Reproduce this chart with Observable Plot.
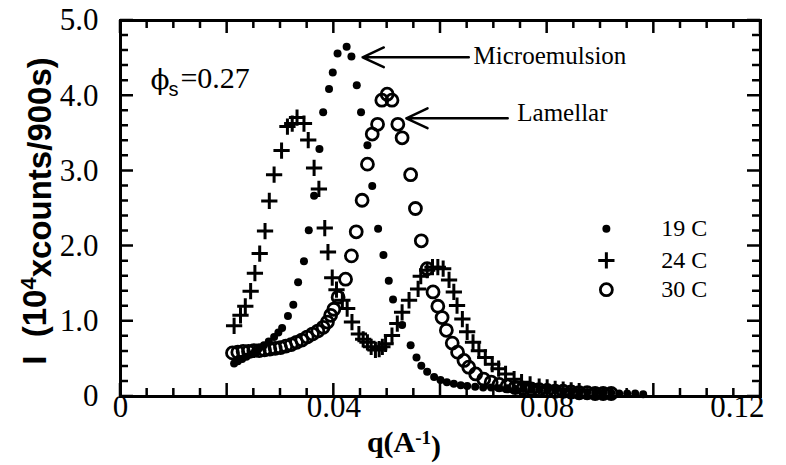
<!DOCTYPE html>
<html><head><meta charset="utf-8">
<script src="https://cdn.jsdelivr.net/npm/d3@7"></script>
<script src="https://cdn.jsdelivr.net/npm/@observablehq/plot@0.6"></script>
<style>body{margin:0;background:#fff}</style>
</head><body><div id="chart"></div>
<script>
// ---- data ----
const q19 = [0.0213,0.0220,0.0228,0.0236,0.0244,0.0252,0.0260,0.0269,0.0278,0.0288,0.0296,0.0303,0.0314,0.0324,0.0333,0.0344,0.0353,0.0363,0.0373,0.0380,0.0391,0.0398,0.0407,0.0424,0.0433,0.0443,0.0451,0.0463,0.0472,0.0483,0.0493,0.0503,0.0511,0.0528,0.0544,0.0555,0.0564,0.0575,0.0588,0.0600,0.0612,0.0625,0.0638,0.0650,0.0665,0.0680,0.0695,0.0710,0.0725,0.0740,0.0755,0.0770,0.0785,0.0800,0.0815,0.0830,0.0845,0.0860,0.0875,0.0890,0.0905,0.0920,0.0935,0.0950,0.0965,0.0980];
const i19 = [0.44,0.47,0.50,0.53,0.56,0.60,0.64,0.68,0.73,0.79,0.85,0.91,1.07,1.22,1.52,1.80,2.21,2.67,3.29,3.78,4.09,4.31,4.56,4.65,4.52,4.14,3.78,3.34,2.80,2.23,1.88,1.54,1.29,0.95,0.68,0.52,0.41,0.33,0.26,0.22,0.19,0.17,0.15,0.14,0.13,0.12,0.12,0.11,0.11,0.10,0.10,0.09,0.09,0.08,0.08,0.07,0.07,0.06,0.06,0.05,0.05,0.05,0.04,0.04,0.04,0.03];

const q24 = [0.0213,0.0225,0.0234,0.0244,0.0252,0.0261,0.0271,0.0279,0.0288,0.0302,0.0313,0.0322,0.0331,0.0344,0.0352,0.0363,0.0372,0.0383,0.0389,0.0397,0.0405,0.0416,0.0425,0.0434,0.0447,0.0455,0.0463,0.0470,0.0478,0.0485,0.0491,0.0497,0.0509,0.0519,0.0528,0.0541,0.0558,0.0563,0.0575,0.0585,0.0595,0.0605,0.0616,0.0625,0.0631,0.0641,0.0650,0.0661,0.0672,0.0684,0.0697,0.0709,0.0722,0.0738,0.0752,0.0768,0.0785,0.0800,0.0815,0.0830,0.0845,0.0860];
const i24 = [0.94,1.08,1.20,1.40,1.64,1.90,2.20,2.60,2.95,3.27,3.59,3.63,3.71,3.63,3.41,3.04,2.76,2.24,1.92,1.58,1.42,1.28,1.17,0.99,0.83,0.76,0.72,0.66,0.62,0.63,0.66,0.70,0.81,0.97,1.12,1.28,1.43,1.60,1.68,1.72,1.72,1.70,1.55,1.39,1.21,1.03,0.86,0.72,0.61,0.52,0.43,0.37,0.30,0.23,0.19,0.16,0.13,0.12,0.10,0.09,0.08,0.07];

const q30 = [0.0210,0.0220,0.0230,0.0240,0.0250,0.0260,0.0270,0.0280,0.0290,0.0300,0.0310,0.0320,0.0330,0.0340,0.0350,0.0360,0.0370,0.0380,0.0388,0.0394,0.0400,0.0408,0.0422,0.0433,0.0442,0.0453,0.0463,0.0472,0.0482,0.0490,0.0500,0.0509,0.0520,0.0528,0.0544,0.0553,0.0564,0.0575,0.0586,0.0595,0.0603,0.0611,0.0622,0.0632,0.0644,0.0653,0.0666,0.0681,0.0695,0.0710,0.0725,0.0740,0.0755,0.0770,0.0785,0.0800,0.0815,0.0830,0.0845,0.0860,0.0875,0.0890,0.0905,0.0920];
const i30 = [0.58,0.59,0.60,0.60,0.61,0.61,0.62,0.63,0.64,0.65,0.67,0.69,0.72,0.75,0.79,0.83,0.87,0.92,0.99,1.08,1.16,1.32,1.56,1.87,2.19,2.61,3.09,3.49,3.62,3.94,4.02,3.94,3.62,3.44,2.95,2.50,2.07,1.70,1.39,1.20,1.05,0.88,0.71,0.59,0.48,0.39,0.30,0.23,0.19,0.16,0.14,0.12,0.11,0.10,0.09,0.08,0.07,0.07,0.06,0.05,0.05,0.04,0.04,0.04];

const seriesNames = ["19 C", "24 C", "30 C"];
const xTickLabels = [0, 0.04, 0.08, 0.12];
const yTickLabels = [0, 1, 2, 3, 4, 5];
const xMajorTicks = [0, 0.02, 0.04, 0.06, 0.08, 0.10, 0.12];
const yMajorTicks = [0, 1, 2, 3, 4, 5];
const xMinorStep = 0.005, yMinorStep = 0.2;
const phiValue = "0.27";
const annotations = ["Microemulsion", "Lamellar"];

// ---- layout ----
const W = 786, H = 465, mL = 120, mR = 26, mT = 20, mB = 69;
const X0 = 0, X1 = 0.12, Y0 = 0, Y1 = 5;
const xMinor = d3.range(0, 25).map(k => X0 + k * xMinorStep);
const yMinor = d3.range(0, 26).map(k => Y0 + k * yMinorStep);
const zip = (q, I, s) => q.map((d, k) => ({q: d, I: I[k], s}));
const d19 = zip(q19, i19, seriesNames[0]);
const d24 = zip(q24, i24, seriesNames[1]);
const d30 = zip(q30, i30, seriesNames[2]);

const serif = "'Liberation Serif', 'Times New Roman', serif";
const sans = "'Liberation Sans', Arial, sans-serif";
const legQ = 0.0911, legTextQ = 0.1014, legY = [2.23, 1.81, 1.42];
const circ = {r: 6, fill: "none", stroke: "black", strokeWidth: 2.8};
const plus = {symbol: "plus", r: 5.3, stroke: "black", strokeWidth: 3};
const fdot = {r: 4, fill: "black", stroke: "none"};
const minorLen = 8, majorLen = 13;
const xLab = d => d === 0 ? "0" : d3.format(".2f")(d);

const chart = Plot.plot({
  width: W, height: H,
  marginLeft: mL, marginRight: mR, marginTop: mT, marginBottom: mB,
  x: {domain: [X0, X1], axis: null},
  y: {domain: [Y0, Y1], axis: null},
  style: {fontFamily: serif, background: "white", color: "black"},
  marks: [
    Plot.frame({stroke: "black", strokeWidth: 3, fill: "none"}),
    // tick labels
    Plot.text(xTickLabels.slice(0, -1), {x: d => d, frameAnchor: "bottom", dy: 20, text: xLab, fontSize: 31}),
    Plot.text(xTickLabels.slice(-1), {x: d => d, frameAnchor: "bottom", dy: 20, dx: 4, textAnchor: "end", text: xLab, fontSize: 31}),
    Plot.text(yTickLabels, {y: d => d, frameAnchor: "left", dx: -22, textAnchor: "end",
      text: d => d === 0 ? "0" : d.toFixed(1), fontSize: 31}),
    // data
    Plot.dot(d30, {x: "q", y: "I", ...circ}),
    Plot.dot(d24, {x: "q", y: "I", ...plus}),
    Plot.dot(d19, {x: "q", y: "I", ...fdot}),
    // annotations
    Plot.arrow([annotations[0]], {x1: () => 0.0653, y1: () => 4.51, x2: () => 0.0454, y2: () => 4.51, stroke: "black", strokeWidth: 2.5, headLength: 14, headAngle: 50}),
    Plot.arrow([annotations[1]], {x1: () => 0.0726, y1: () => 3.70, x2: () => 0.0536, y2: () => 3.70, stroke: "black", strokeWidth: 2.5, headLength: 14, headAngle: 50}),
    Plot.text([annotations[0]], {x: () => 0.0662, y: () => 4.53, text: d => d, textAnchor: "start", fontSize: 25}),
    Plot.text([annotations[1]], {x: () => 0.0744, y: () => 3.77, text: d => d, textAnchor: "start", fontSize: 25}),
    // legend
    Plot.dot([seriesNames[0]], {x: () => legQ, y: () => legY[0], ...fdot}),
    Plot.dot([seriesNames[1]], {x: () => legQ, y: () => legY[1], ...plus}),
    Plot.dot([seriesNames[2]], {x: () => legQ, y: () => legY[2], ...circ}),
    Plot.text(seriesNames, {x: () => legTextQ, y: (d, k) => legY[k], text: d => d, textAnchor: "start", fontSize: 24})
  ]
});
document.getElementById("chart").appendChild(chart);

const svg = d3.select(chart);
const xs = chart.scale("x"), ys = chart.scale("y");

// inward ticks on all four sides, positioned through Plot's own scales
const xb = ys.apply(Y0), xt = ys.apply(Y1), yl0 = xs.apply(X0), yr0 = xs.apply(X1);
const near = (list, v) => list.some(m => Math.abs(m - v) < 1e-9);
let tickPath = "";
for (const v of xMinor) {
  const L = near(xMajorTicks, v) ? majorLen : minorLen, px = xs.apply(v);
  tickPath += `M${px},${xb}v${-L}M${px},${xt}v${L}`;
}
for (const v of yMinor) {
  const L = near(yMajorTicks, v) ? majorLen : minorLen, py = ys.apply(v);
  tickPath += `M${yl0},${py}h${L}M${yr0},${py}h${-L}`;
}
svg.append("path").attr("d", tickPath).attr("fill", "none")
  .attr("stroke", "black").attr("stroke-width", 2.5);

// titles with sub/superscripts
const yl = svg.append("text")
  .attr("transform", `translate(46, 211) rotate(-90)`)
  .attr("text-anchor", "middle")
  .attr("font-family", sans)
  .attr("font-weight", "bold").attr("font-size", 33).attr("fill", "black");
yl.append("tspan").text("I  (10");
yl.append("tspan").attr("dy", "-0.45em").attr("font-size", 22).text("4");
yl.append("tspan").attr("dy", "0.45em").text("xcounts/900s)");

const xl = svg.append("text")
  .attr("x", 404).attr("y", 452).attr("text-anchor", "middle")
  .attr("font-family", serif).attr("font-weight", "bold").attr("font-size", 30).attr("fill", "black");
xl.append("tspan").text("q(A");
xl.append("tspan").attr("dy", "-0.4em").attr("font-size", 19).text("-1");
xl.append("tspan").attr("dy", "0.4em").text(")");

const phiX = xs.apply(0.0057), phiY = ys.apply(4.23) + 10;
const phi = svg.append("g").attr("text-anchor", "start").attr("fill", "black");
phi.append("text").attr("x", phiX).attr("y", phiY + 1)
  .attr("font-family", "'DejaVu Serif', serif").attr("font-size", 28).text("\u03D5");
phi.append("text").attr("x", phiX + 18).attr("y", phiY + 8)
  .attr("font-family", sans).attr("font-size", 20).text("s");
phi.append("text").attr("x", phiX + 30).attr("y", phiY)
  .attr("font-family", serif).attr("font-size", 30).text("=" + phiValue);
</script>
</body></html>
